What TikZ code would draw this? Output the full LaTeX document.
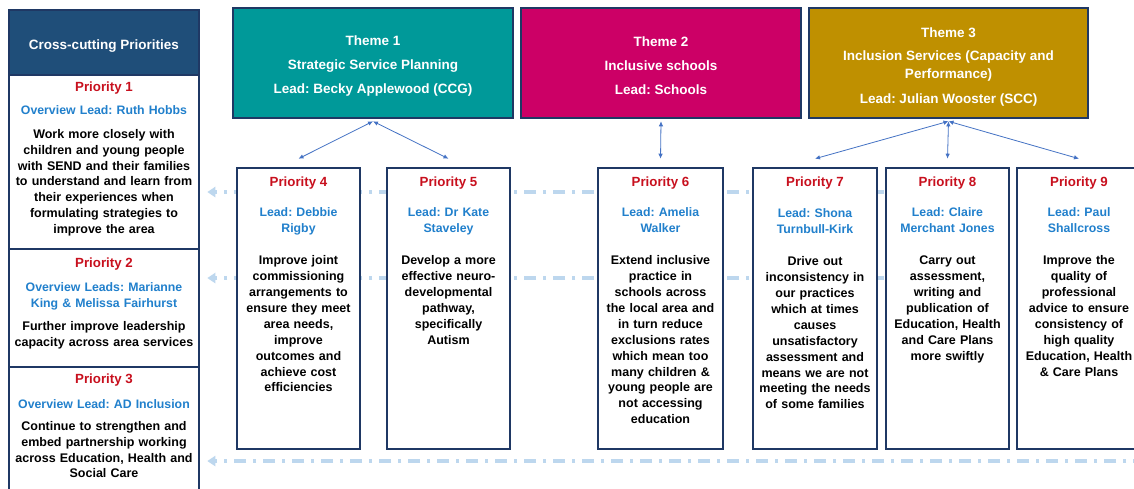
\documentclass[tikz,border=0pt]{standalone}
\usepackage{fontspec}
\setmainfont{Liberation Sans}
\usepackage{tikz}
\usetikzlibrary{arrows.meta}
\definecolor{navy}{RGB}{31,56,100}
\definecolor{hdblue}{RGB}{31,78,121}
\definecolor{themeteal}{RGB}{0,153,153}
\definecolor{thememag}{RGB}{204,0,102}
\definecolor{themegold}{RGB}{191,144,0}
\definecolor{prred}{RGB}{200,16,30}
\definecolor{leadblue}{RGB}{33,128,204}
\definecolor{linkblue}{RGB}{68,114,196}
\definecolor{guideblue}{RGB}{189,215,238}
\frenchspacing

\begin{document}
\begin{tikzpicture}[x=1pt, y=-1pt,
    box/.style={draw=navy, line width=2.6pt, fill=white, inner sep=0pt},
    themetext/.style={text=white, align=center, font=\fontsize{13.5pt}{18pt}\selectfont\bfseries},
    ptitle/.style={anchor=base, text=prred, font=\fontsize{13.3pt}{16pt}\selectfont\bfseries},
    plead/.style={anchor=base, inner sep=0pt, text width=130pt, align=center, text=leadblue, font=\fontsize{12.3pt}{16pt}\selectfont\bfseries},
    pbody/.style={anchor=base, inner sep=0pt, text width=130pt, align=center, font=\fontsize{12.5pt}{15.9pt}\selectfont\bfseries},
    link/.style={draw=linkblue, line width=0.8pt, {Latex[length=5pt,width=4.5pt]}-{Latex[length=5pt,width=4.5pt]}},
    guide/.style={draw=guideblue, line width=3.5pt, dash pattern=on 12pt off 7pt on 3pt off 7pt, -{Triangle[length=8pt,width=10pt]}, shorten >=7pt}]
    \path[fill=white, use as bounding box] (0,0) rectangle (1134,488);

    \node[box, fill=hdblue, minimum width=190pt, minimum height=65pt] (hd) at (104,42.5) {};
    \node[themetext] (hdt) at ([yshift=-4pt]hd.center) {Cross-cutting Priorities};
    \node[box, minimum width=190pt, minimum height=174pt] (c1) at (104,162) {};
    \node[box, minimum width=190pt, minimum height=118pt] (c2) at (104,308) {};
    \node[box, minimum width=190pt, minimum height=133pt] (c3) at (104,433.5) {};

    \node[ptitle] (c1h) at ([yshift=-17.5pt]c1.north) {Priority 1};
    \node[plead, text width=185pt] (c1l) at ([yshift=-40.5pt]c1.north) {Overview Lead: Ruth Hobbs};
    \node[pbody, text width=185pt] (c1b) at ([yshift=-64.5pt]c1.north) {Work more closely with\\children and young people\\with SEND and their families\\to understand and learn from\\their experiences when\\formulating strategies to\\improve the area};
    \node[ptitle] (c2h) at ([yshift=-19.5pt]c2.north) {Priority 2};
    \node[plead, text width=185pt] (c2l) at ([yshift=-43.5pt]c2.north) {Overview Leads: Marianne\\King \& Melissa Fairhurst};
    \node[pbody, text width=185pt] (c2b) at ([yshift=-82.5pt]c2.north) {Further improve leadership\\capacity across area services};
    \node[ptitle] (c3h) at ([yshift=-17.5pt]c3.north) {Priority 3};
    \node[plead, text width=185pt] (c3l) at ([yshift=-42.5pt]c3.north) {Overview Lead: AD Inclusion};
    \node[pbody, text width=185pt] (c3b) at ([yshift=-64.5pt]c3.north) {Continue to strengthen and\\embed partnership working\\across Education, Health and\\Social Care};

    \coordinate (e1) at (1145,192);
    \coordinate (e2) at (1145,278);
    \coordinate (e3) at (1145,461);
    \draw[guide] (e1) -- (e1 -| c1.east);
    \draw[guide] (e2) -- (e2 -| c2.east);
    \draw[guide] (e3) -- (e3 -| c3.east);

    \node[box, fill=themeteal, minimum width=280pt, minimum height=110pt] (t1) at (373,63) {};
    \node[box, fill=thememag, minimum width=280pt, minimum height=110pt] (t2) at (661,63) {};
    \node[box, fill=themegold, minimum width=279pt, minimum height=110pt] (t3) at (948.5,63) {};
    \node[themetext] (t1t) at ([yshift=-3pt]t1.center) {Theme 1\\[6pt]Strategic Service Planning\\[6pt]Lead: Becky Applewood (CCG)};
    \node[themetext] (t2t) at ([yshift=-3pt]t2.center) {Theme 2\\[6pt]Inclusive schools\\[6pt]Lead: Schools};
    \node[themetext] (t3t) at ([yshift=-4pt]t3.center) {Theme 3\\[5pt]Inclusion Services (Capacity and\\Performance)\\[7pt]Lead: Julian Wooster (SCC)};

    \node[box, minimum width=123pt, minimum height=281pt] (p4) at (298.5,308.5) {};
    \node[box, minimum width=123pt, minimum height=281pt] (p5) at (448.5,308.5) {};
    \node[box, minimum width=125pt, minimum height=281pt] (p6) at (660.5,308.5) {};
    \node[box, minimum width=124pt, minimum height=281pt] (p7) at (815,308.5) {};
    \node[box, minimum width=123pt, minimum height=281pt] (p8) at (947.5,308.5) {};
    \node[box, minimum width=124pt, minimum height=281pt] (p9) at (1079,308.5) {};

    \node[ptitle] (p4h) at ([yshift=-20pt]p4.north) {Priority 4};
    \node[plead] (p4l) at ([yshift=-50pt]p4.north) {Lead: Debbie\\Rigby};
    \node[pbody] (p4b) at ([yshift=-98pt]p4.north) {Improve joint\\commissioning\\arrangements to\\ensure they meet\\area needs,\\improve\\outcomes and\\achieve cost\\efficiencies};
    \node[ptitle] (p5h) at ([yshift=-20pt]p5.north) {Priority 5};
    \node[plead] (p5l) at ([yshift=-50pt]p5.north) {Lead: Dr Kate\\Staveley};
    \node[pbody] (p5b) at ([yshift=-98pt]p5.north) {Develop a more\\effective neuro-\\developmental\\pathway,\\specifically\\Autism};
    \node[ptitle] (p6h) at ([yshift=-20pt]p6.north) {Priority 6};
    \node[plead] (p6l) at ([yshift=-50pt]p6.north) {Lead: Amelia\\Walker};
    \node[pbody] (p6b) at ([yshift=-98pt]p6.north) {Extend inclusive\\practice in\\schools across\\the local area and\\in turn reduce\\exclusions rates\\which mean too\\many children \&\\young people are\\not accessing\\education};
    \node[ptitle] (p7h) at ([yshift=-20pt]p7.north) {Priority 7};
    \node[plead] (p7l) at ([yshift=-51pt]p7.north) {Lead: Shona\\Turnbull-Kirk};
    \node[pbody] (p7b) at ([yshift=-99pt]p7.north) {Drive out\\inconsistency in\\our practices\\which at times\\causes\\unsatisfactory\\assessment and\\means we are not\\meeting the needs\\of some families};
    \node[ptitle] (p8h) at ([yshift=-20pt]p8.north) {Priority 8};
    \node[plead] (p8l) at ([yshift=-50pt]p8.north) {Lead: Claire\\Merchant Jones};
    \node[pbody] (p8b) at ([yshift=-98pt]p8.north) {Carry out\\assessment,\\writing and\\publication of\\Education, Health\\and Care Plans\\more swiftly};
    \node[ptitle] (p9h) at ([yshift=-20pt]p9.north) {Priority 9};
    \node[plead] (p9l) at ([yshift=-50pt]p9.north) {Lead: Paul\\Shallcross};
    \node[pbody] (p9b) at ([yshift=-98pt]p9.north) {Improve the\\quality of\\professional\\advice to ensure\\consistency of\\high quality\\Education, Health\\\& Care Plans};

    \draw[link] ([yshift=-2pt]t1.south) -- ([yshift=8pt]p4.north);
    \draw[link] ([yshift=-2pt]t1.south) -- ([yshift=8pt]p5.north);
    \draw[link] ([yshift=-2pt]t2.south) -- ([yshift=8pt]p6.north);
    \draw[link] ([yshift=-2pt]t3.south) -- ([yshift=8pt]p7.north);
    \draw[link] ([yshift=-2pt]t3.south) -- ([yshift=8pt]p8.north);
    \draw[link] ([yshift=-2pt]t3.south) -- ([yshift=8pt]p9.north);
\end{tikzpicture}
\end{document}
